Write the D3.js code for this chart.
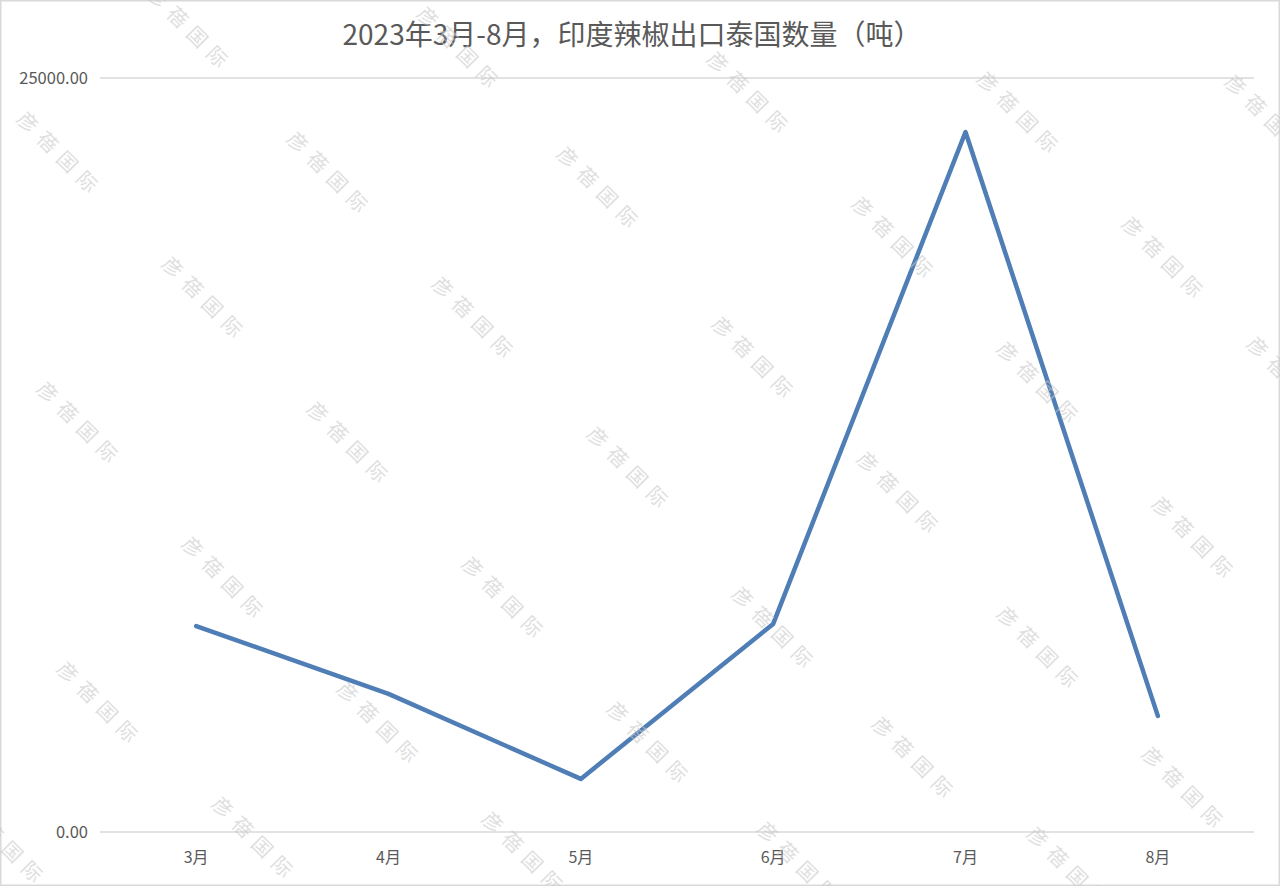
<!DOCTYPE html>
<html><head><meta charset="utf-8">
<script src="https://cdn.jsdelivr.net/npm/d3@7"></script>
<style>
html,body{margin:0;padding:0;background:#fff;}
svg{display:block;}
</style></head>
<body>
<svg id="chart" width="1280" height="886"></svg>
<script>
const title = "2023年3月-8月，印度辣椒出口泰国数量（吨）";
const months = ["3月","4月","5月","6月","7月","8月"];
const values = [6830, 4580, 1760, 6900, 23210, 3850];
const yTicks = [0, 25000];
const watermarkText = "彦蓓国际";
const watermarkCenters = [[190,30],[460,50],[750,95],[1020,115],[1268,118],[60,155],[330,175],[600,190],[895,240],[1165,260],[205,300],[475,320],[755,360],[1040,385],[80,425],[350,445],[630,470],[900,495],[1195,540],[225,580],[505,600],[775,630],[1040,650],[100,705],[380,725],[650,745],[915,760],[1185,790],[255,840],[525,855],[800,865],[1070,870],[5,845],[1290,380]];

const svg = d3.select("#chart");
const W = 1280, H = 886;
const m = {left:100, right:1254, top:78, bottom:832};

svg.append("rect").attr("x",0.5).attr("y",0.5).attr("width",W-1).attr("height",H-1)
  .attr("fill","#fff").attr("stroke","#d9d9d9").attr("stroke-width",2);

const x = d3.scalePoint().domain(months).range([m.left, m.right]).padding(0.5);
const y = d3.scaleLinear().domain([0,25000]).range([m.bottom, m.top]);

// gridlines
svg.append("g").selectAll("line").data(yTicks).join("line")
  .attr("x1",m.left).attr("x2",m.right)
  .attr("y1",d=>y(d)).attr("y2",d=>y(d))
  .attr("stroke","#d9d9d9").attr("stroke-width",1.5);

// y labels
svg.append("g").selectAll("text").data(yTicks).join("text")
  .attr("x",88).attr("y",d=>y(d)).attr("dy","0.35em")
  .attr("text-anchor","end")
  .attr("font-family","'Noto Sans CJK SC', 'Noto Sans', sans-serif")
  .attr("font-size",16.5).attr("fill","#595959")
  .text(d=>d3.format(".2f")(d));

// x labels
svg.append("g").selectAll("text").data(months).join("text")
  .attr("x",d=>x(d)).attr("y",857).attr("dy","0.35em")
  .attr("text-anchor","middle")
  .attr("font-family","'Noto Sans CJK SC', sans-serif")
  .attr("font-size",16).attr("fill","#595959")
  .text(d=>d);

// line
const line = d3.line().x((d,i)=>x(months[i])).y(d=>y(d));
svg.append("path").datum(values)
  .attr("d",line).attr("fill","none")
  .attr("stroke","#4f7db5").attr("stroke-width",4.5)
  .attr("stroke-linejoin","round").attr("stroke-linecap","round");

// title
svg.append("text").attr("x",632).attr("y",35).attr("dy","0.35em")
  .attr("text-anchor","middle")
  .attr("font-family","'Noto Sans CJK SC', sans-serif")
  .attr("font-size",28).attr("fill","#595959")
  .text(title);

// watermarks
svg.append("g").selectAll("text").data(watermarkCenters).join("text")
  .attr("transform",d=>`translate(${d[0]},${d[1]}) rotate(45)`)
  .attr("text-anchor","middle").attr("dy","0.35em")
  .attr("font-family","'Noto Sans CJK SC', sans-serif")
  .attr("font-size",20).attr("letter-spacing",8)
  .attr("fill","#c8c8c8").attr("fill-opacity",0.6)
  .text(watermarkText);
</script>
</body></html>
